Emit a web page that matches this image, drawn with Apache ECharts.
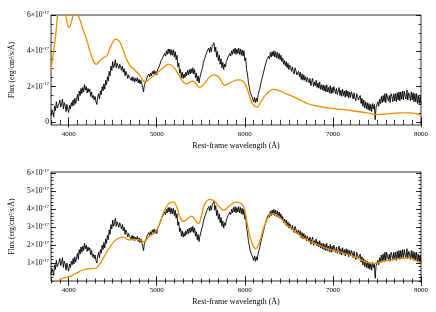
<!DOCTYPE html>
<html>
<head>
<meta charset="utf-8">
<script src="https://cdn.jsdelivr.net/npm/echarts@6/dist/echarts.min.js"></script>
<style>
html, body { margin: 0; padding: 0; background: #fff; }
#main { width: 436px; height: 312px; }
</style>
</head>
<body>
<div id="main"></div>
<script>
// observed spectrum, flux in units of 1e-17 erg/cm2/s/A, sampled every 10 A from 3800
var specStart = 3800;
var specStep = 10;
var specFlux = [
  0.35, 0.7, 0.55, 0.3, 0.9, 0.65, 1.15, 0.8, 0.7, 1.05,
  1.25, 0.85, 1.05, 1.3, 0.75, 1.1, 0.95, 0.6, 1.0, 0.75,
  0.55, 0.95, 0.75, 1.1, 0.9, 1.25, 0.95, 1.35, 1.05, 1.3,
  1.55, 1.2, 1.75, 1.5, 1.9, 1.6, 1.95, 1.7, 2.1, 1.8,
  2.0, 1.65, 1.9, 1.7, 1.85, 1.45, 1.7, 1.35, 1.5, 1.25,
  1.45, 1.15, 1.0, 1.4, 1.6, 1.3, 1.75, 1.55, 2.0, 1.75,
  2.15, 1.85, 2.35, 2.1, 2.55, 2.3, 2.85, 2.6, 3.15, 2.9,
  3.4, 3.05, 3.2, 3.5, 3.05, 3.3, 3.35, 3.0, 3.25, 3.1,
  2.9, 3.15, 2.8, 3.0, 2.6, 2.85, 2.7, 2.45, 2.65, 2.5,
  2.6, 2.35, 2.55, 2.3, 2.5, 2.25, 2.45, 2.3, 2.5, 2.2,
  2.4, 2.15, 2.35, 2.15, 1.95, 1.7, 2.1, 2.0, 2.35, 2.5,
  2.45, 2.7, 2.55, 2.75, 2.6, 2.85, 2.7, 2.9, 2.65, 2.85,
  2.65, 2.95, 2.85, 3.15, 3.2, 3.45, 3.35, 3.65, 3.6, 3.85,
  3.7, 4.0, 3.8, 4.1, 3.85, 4.1, 3.75, 4.05, 3.75, 4.05,
  3.65, 3.95, 3.5, 3.75, 3.1, 3.3, 2.75, 2.95, 2.5, 2.8,
  2.45, 2.7, 2.5, 2.8, 2.6, 2.9, 2.65, 2.95, 2.7, 3.0,
  2.75, 3.05, 2.7, 2.95, 2.5, 2.75, 2.3, 2.6, 2.2, 2.5,
  2.55, 2.9, 3.05, 3.35, 3.35, 3.65, 3.65, 3.95, 3.85, 4.15,
  3.9, 4.2, 3.95, 4.25, 4.15, 4.45, 3.95, 4.2, 3.65, 3.95,
  3.45, 3.75, 3.25, 3.55, 3.05, 3.35, 2.95, 3.25, 3.1, 3.4,
  3.35, 3.65, 3.55, 3.85, 3.7, 4.0, 3.8, 4.1, 3.85, 4.15,
  3.8, 4.1, 3.85, 4.15, 3.8, 4.1, 3.75, 4.05, 3.7, 4.0,
  3.45, 3.6, 2.95, 2.7, 2.25, 2.0, 1.7, 1.6, 1.45, 1.4,
  1.15, 1.4, 1.1, 1.35, 1.15, 1.5, 1.5, 1.9, 1.95, 2.35,
  2.35, 2.75, 2.75, 3.15, 3.15, 3.5, 3.4, 3.7, 3.55, 3.9,
  3.65, 3.95, 3.7, 4.0, 3.65, 3.95, 3.6, 3.9, 3.55, 3.85,
  3.5, 3.75, 3.4, 3.6, 3.25, 3.45, 3.15, 3.4, 3.05, 3.3,
  2.95, 3.2, 3.05, 2.85, 3.1, 2.85, 2.7, 3.05, 2.9, 2.65,
  2.6, 2.85, 2.55, 2.8, 2.4, 2.7, 2.35, 2.65, 2.35, 2.55,
  2.25, 2.5, 2.35, 2.2, 2.45, 2.05, 2.3, 2.45, 2.0, 2.25,
  2.05, 2.35, 1.95, 2.2, 1.9, 2.25, 1.85, 2.1, 1.8, 2.1,
  1.75, 2.05, 1.7, 2.1, 1.7, 1.95, 1.65, 2.05, 1.6, 1.95,
  1.65, 2.0, 1.8, 1.6, 1.9, 1.55, 1.75, 1.95, 1.5, 1.8,
  1.45, 1.85, 1.5, 1.75, 1.4, 1.8, 1.45, 1.75, 1.35, 1.7,
  1.4, 1.7, 1.55, 1.3, 1.65, 1.35, 1.2, 1.6, 1.45, 1.25,
  1.15, 1.5, 1.05, 1.35, 0.9, 1.25, 0.8, 1.15, 0.75, 1.1,
  0.7, 1.05, 0.65, 1.0, 0.6, 1.05, 0.75, 1.0, 0.15, 0.85,
  0.8, 1.15, 0.9, 1.3, 1.05, 1.45, 1.1, 1.5, 1.15, 1.6,
  1.1, 1.6, 1.35, 1.2, 1.5, 1.1, 1.6, 1.45, 1.15, 1.6,
  1.2, 1.6, 1.15, 1.65, 1.25, 1.7, 1.2, 1.7, 1.3, 1.75,
  1.25, 1.75, 1.45, 1.3, 1.8, 1.25, 1.65, 1.5, 1.2, 1.7,
  1.25, 1.65, 1.15, 1.6, 1.15, 1.6, 1.05, 1.5, 1.05, 1.45,
  1.0
];

// model fit in the upper panel
var topModelWave = [3800, 3830, 3855, 3875, 3900, 3935, 3965, 3985, 4005, 4030,
  4060, 4080, 4100, 4130, 4155, 4185, 4212, 4240, 4268, 4295,
  4316, 4345, 4381, 4410, 4437, 4465, 4493, 4530, 4560, 4587,
  4615, 4643, 4670, 4700, 4756, 4812, 4862, 4890, 4925, 5000,
  5076, 5133, 5189, 5245, 5302, 5335, 5360, 5400, 5430, 5460,
  5490, 5546, 5603, 5650, 5700, 5740, 5772, 5810, 5847, 5922,
  5979, 6017, 6054, 6092, 6141, 6186, 6242, 6317, 6373, 6486,
  6599, 6712, 6862, 7012, 7200, 7388, 7500, 7613, 7763, 7876, 8000];
var topModelFlux = [2.95, 4.0, 5.0, 6.0, 6.8, 6.6, 6.0, 5.5, 5.3, 5.6,
  6.2, 6.4, 6.1, 5.7, 5.3, 4.9, 4.5, 4.0, 3.6, 3.3,
  3.25, 3.4, 3.55, 3.65, 3.75, 4.1, 4.4, 4.65, 4.6, 4.45,
  4.1, 3.7, 3.4, 3.15, 2.9, 2.6, 2.27, 2.3, 2.45, 2.75,
  3.05, 3.25, 3.1, 2.7, 2.25, 2.15, 2.2, 2.3, 2.25, 2.05,
  1.95, 2.2, 2.55, 2.65, 2.55, 2.25, 2.07, 2.15, 2.25, 2.37,
  2.3, 2.0, 1.47, 1.0, 0.85, 1.18, 1.56, 1.84, 1.8, 1.56,
  1.32, 1.05, 0.87, 0.77, 0.66, 0.53, 0.43, 0.47, 0.53, 0.53, 0.4];

// model fit in the lower panel
var botModelWave = [3800, 3873, 3930, 4005, 4080, 4155, 4231, 4305, 4343, 4400,
  4456, 4513, 4569, 4626, 4682, 4757, 4800, 4851, 4908, 4983,
  5039, 5077, 5133, 5189, 5227, 5264, 5302, 5359, 5396, 5440,
  5471, 5509, 5546, 5603, 5659, 5715, 5761, 5828, 5904, 5950,
  5990, 6017, 6054, 6092, 6122, 6167, 6223, 6279, 6317, 6392,
  6486, 6599, 6712, 6825, 6919, 7070, 7220, 7370, 7464, 7596,
  7746, 7859, 7972, 8000];
var botModelFlux = [-0.3, 0.0, 0.14, 0.23, 0.42, 0.6, 0.69, 0.7, 0.88, 1.34,
  1.8, 2.18, 2.4, 2.45, 2.3, 2.32, 2.3, 2.2, 2.45, 2.73,
  3.29, 3.84, 4.3, 4.4, 4.12, 3.57, 3.32, 3.51, 3.62, 3.4,
  3.2, 3.66, 4.3, 4.55, 4.44, 4.12, 3.94, 4.21, 4.4, 4.35,
  4.1, 3.47, 2.55, 1.99, 1.8, 2.18, 3.1, 3.66, 3.75, 3.57,
  3.1, 2.64, 2.27, 2.03, 1.84, 1.62, 1.4, 1.07, 0.97, 1.12,
  1.25, 1.29, 1.07, 1.03];

var xLabels = [4000, 5000, 6000, 7000, 8000];
var topYLabels = [0, 2, 4, 6];
var botYLabels = [1, 2, 3, 4, 5, 6];

var FONT = 'Liberation Serif';
var ORANGE = '#ef8c00';

function range(a, b, s) {
  var out = [];
  for (var v = a; v <= b + 1e-9; v += s) out.push(Math.round(v * 100) / 100);
  return out;
}
function pairs(xs, ys) {
  return xs.map(function (x, i) { return [x, ys[i]]; });
}

var specData = specFlux.map(function (f, i) { return [specStart + i * specStep, f]; });

var xMinor = range(3800, 8000, 100);

function tick(vals, len) {
  return { show: true, inside: true, length: len, customValues: vals,
    lineStyle: { color: '#000', width: 0.8 } };
}

function xAxes(gi) {
  var common = { type: 'value', gridIndex: gi, min: 3800, max: 8000,
    axisLine: { show: false }, splitLine: { show: false } };
  return [
    Object.assign({}, common, {
      position: 'bottom', axisTick: tick(xMinor, 2.5),
      axisLabel: { show: true, customValues: xLabels, margin: 6,
        fontFamily: FONT, fontSize: 7, color: '#000',
        formatter: function (v) { return String(v); } },
      name: 'Rest-frame wavelength (Å)', nameLocation: 'middle', nameGap: 17,
      nameTextStyle: { fontFamily: FONT, fontSize: 8, color: '#000' }
    }),
    Object.assign({}, common, { position: 'bottom', axisTick: tick(xLabels, 5), axisLabel: { show: false } }),
    Object.assign({}, common, { position: 'top', axisTick: tick(xMinor, 2.5), axisLabel: { show: false } }),
    Object.assign({}, common, { position: 'top', axisTick: tick(xLabels, 5), axisLabel: { show: false } })
  ];
}

function yAxes(gi, min, max, minorVals, labelVals) {
  var common = { type: 'value', gridIndex: gi, min: min, max: max,
    axisLine: { show: false }, splitLine: { show: false } };
  return [
    Object.assign({}, common, {
      position: 'left', axisTick: tick(minorVals, 2.5),
      axisLabel: { show: true, customValues: labelVals, margin: 2,
        color: '#000',
        formatter: function (v) { return v === 0 ? '{a|0}' : '{a|' + v + '×10}{s|-17}'; },
        rich: {
          a: { fontFamily: FONT, fontSize: 7.5, color: '#000' },
          s: { fontFamily: FONT, fontSize: 5, color: '#000', padding: [0, 0, 5, 0] }
        }
      },
      name: 'Flux (erg/cm²/s/Å)', nameLocation: 'middle', nameGap: 29, nameRotate: 90,
      nameTextStyle: { fontFamily: FONT, fontSize: 7.5, color: '#000' }
    }),
    Object.assign({}, common, { position: 'left', axisTick: tick(labelVals, 5), axisLabel: { show: false } }),
    Object.assign({}, common, { position: 'right', axisTick: tick(minorVals, 2.5), axisLabel: { show: false } }),
    Object.assign({}, common, { position: 'right', axisTick: tick(labelVals, 5), axisLabel: { show: false } })
  ];
}

var chart = echarts.init(document.getElementById('main'), null, { renderer: 'canvas' });

var option = {
  animation: false,
  backgroundColor: '#fff',
  grid: [
    { left: 48, right: 15, top: 15, height: 110, show: true, borderColor: '#000', borderWidth: 0.8, backgroundColor: 'transparent' },
    { left: 48, right: 15, top: 172, height: 109, show: true, borderColor: '#000', borderWidth: 0.8, backgroundColor: 'transparent' }
  ],
  xAxis: xAxes(0).concat(xAxes(1)),
  yAxis: yAxes(0, -0.15, 6, range(0, 6, 0.5), topYLabels)
    .concat(yAxes(1, 0, 6.08, range(0, 6, 0.2), botYLabels)),
  series: [
    { type: 'line', xAxisIndex: 0, yAxisIndex: 0, data: specData, showSymbol: false,
      clip: true, lineStyle: { color: '#000', width: 0.9 }, z: 2 },
    { type: 'line', xAxisIndex: 0, yAxisIndex: 0, data: pairs(topModelWave, topModelFlux), showSymbol: false,
      smooth: 0.4, clip: true, lineStyle: { color: ORANGE, width: 1.3 }, z: 3 },
    { type: 'line', xAxisIndex: 4, yAxisIndex: 4, data: specData, showSymbol: false,
      clip: true, lineStyle: { color: '#000', width: 0.9 }, z: 2 },
    { type: 'line', xAxisIndex: 4, yAxisIndex: 4, data: pairs(botModelWave, botModelFlux), showSymbol: false,
      smooth: 0.4, clip: true, lineStyle: { color: ORANGE, width: 1.3 }, z: 3 }
  ]
};

chart.setOption(option);
</script>
</body>
</html>
